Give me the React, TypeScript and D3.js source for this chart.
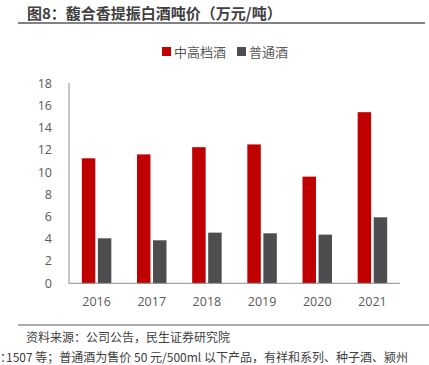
import React from 'react';
import * as d3 from 'd3';

const years = ['2016', '2017', '2018', '2019', '2020', '2021'];
const seriesNames = ['中高档酒', '普通酒'];
const highEnd = [11.25, 11.6, 12.25, 12.5, 9.6, 15.4];
const regular = [4.05, 3.87, 4.56, 4.5, 4.38, 5.94];
const yTicks = [0, 2, 4, 6, 8, 10, 12, 14, 16, 18];
const colors = ['#C00000', '#4D4D4F'];

const W = 429;
const H = 365;
const FONT = '"Open Sans", "Noto Sans CJK SC", sans-serif';
const CJK = '"Noto Sans CJK SC", "Noto Sans", sans-serif';

const App: React.FC = () => {
  const x0 = d3.scaleBand<string>().domain(years).range([69, 400]).padding(0);
  const y = d3.scaleLinear().domain([0, 18]).range([283.3, 83.3]);
  const groupW = 29.5;

  const values = [highEnd, regular];

  return (
    <svg width={W} height={H} style={{ position: 'absolute', left: 0, top: 0, background: '#fff' }}>
      {/* title */}
      <text x={27} y={19} fontFamily={CJK} fontWeight="bold" fontSize={15} fill="#404040">
        图8：馥合香提振白酒吨价（万元/吨）
      </text>
      <line x1={18} x2={425} y1={23} y2={23} stroke="#595959" strokeWidth={1.5} />

      {/* legend */}
      <g>
        <rect x={162} y={47} width={9} height={9} fill={colors[0]} />
        <text x={174} y={56.5} fontFamily={CJK} fontSize={13} fill="#595959">{seriesNames[0]}</text>
        <rect x={237} y={47} width={9} height={9} fill={colors[1]} />
        <text x={249} y={56.5} fontFamily={CJK} fontSize={13} fill="#595959">{seriesNames[1]}</text>
      </g>

      {/* y tick labels */}
      {yTicks.map(t => (
        <text key={t} x={52} y={y(t)} dy="0.35em" textAnchor="end" fontFamily={FONT} fontSize={12.5} fill="#595959">
          {t}
        </text>
      ))}

      {/* bars */}
      {years.map((yr, i) => {
        const c = (x0(yr) as number) + x0.bandwidth() / 2;
        const x1 = d3.scaleBand<string>().domain(seriesNames).range([c - groupW / 2, c + groupW / 2]).paddingInner(0.16);
        return (
          <g key={yr}>
            {seriesNames.map((s, k) => (
              <rect
                key={s}
                x={x1(s) as number}
                y={y(values[k][i])}
                width={x1.bandwidth()}
                height={y(0) - y(values[k][i])}
                fill={colors[k]}
              />
            ))}
            <text x={c} y={306} textAnchor="middle" fontFamily={FONT} fontSize={12.5} fill="#595959">
              {yr}
            </text>
          </g>
        );
      })}

      {/* axes */}
      <line x1={69} x2={69} y1={83} y2={y(0)} stroke="#8C8C8C" strokeWidth={1} />
      <line x1={69} x2={400} y1={y(0)} y2={y(0)} stroke="#8C8C8C" strokeWidth={1} />

      {/* footer */}
      <line x1={18} x2={429} y1={325} y2={325} stroke="#595959" strokeWidth={1} />
      <text x={26} y={342} fontFamily={CJK} fontSize={12} fill="#404040">
        资料来源：公司公告，民生证券研究院
      </text>
      <text x={0} y={362} fontFamily={CJK} fontSize={12} fill="#404040">
        <tspan style={{ fontFeatureSettings: '"halt"' }}>：</tspan>1507 等；普通酒为售价 50 元/500ml 以下产品，有祥和系列、种子酒、颍州
      </text>
    </svg>
  );
};

export default App;
